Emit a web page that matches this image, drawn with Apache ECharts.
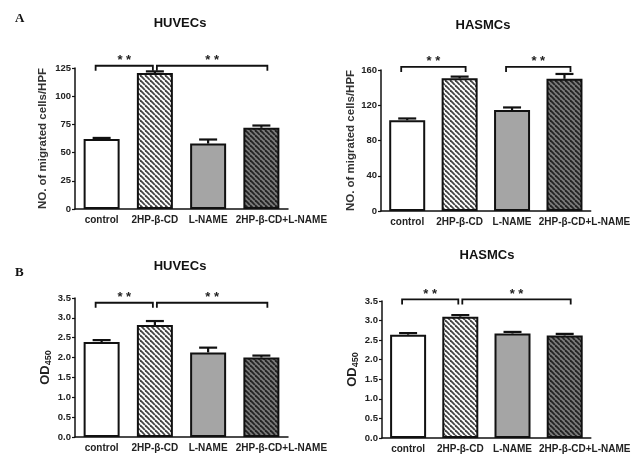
<!DOCTYPE html>
<html><head><meta charset="utf-8">
<script src="https://cdn.jsdelivr.net/npm/echarts@6/dist/echarts.min.js"></script>
<style>html,body{margin:0;padding:0;background:#fff}#c{width:633px;height:454px}</style>
</head><body><div id="c"></div>
<script>
// ---- data ----
const categories = ['control', '2HP-β-CD', 'L-NAME', '2HP-β-CD+L-NAME'];
const migHUVEC = [62, 120.5, 58, 72];
const migHUVECErr = [1, 1.5, 3.6, 2];
const migHASMC = [103, 150.5, 114.5, 150];
const migHASMCErr = [2, 2, 3, 5.5];
const odHUVEC = [2.39, 2.82, 2.13, 2.0];
const odHUVECErr = [0.05, 0.1, 0.12, 0.05];
const odHASMC = [2.64, 3.10, 2.67, 2.62];
const odHASMCErr = [0.04, 0.04, 0.04, 0.04];
// significance brackets: [fromIndex, toIndex, yValue]
const brkMigHUVEC = [[0, 1, 127], [1, 3, 127]];
const brkMigHASMC = [[0, 1, 163.5], [2, 3, 163.5]];
const brkOdHUVEC = [[0, 1, 3.38], [1, 3, 3.38]];
const brkOdHASMC = [[0, 1, 3.54], [1, 3, 3.54]];
const yTicksMig1 = {min: 0, max: 125, interval: 25};
const yTicksMig2 = {min: 0, max: 160, interval: 40};
const yTicksOD = {min: 0, max: 3.5, interval: 0.5};

// ---- styles ----
function stripes(bg, fg) {
  const s = 5, c = document.createElement('canvas');
  c.width = s; c.height = s;
  const g = c.getContext('2d');
  g.fillStyle = bg; g.fillRect(0, 0, s, s);
  g.strokeStyle = fg; g.lineWidth = 1.8;
  for (const o of [-s, 0, s]) {
    g.beginPath(); g.moveTo(o, 0); g.lineTo(o + s, s); g.stroke();
  }
  return {image: c, repeat: 'repeat'};
}
const fills = ['#ffffff', stripes('#ffffff', '#444444'), '#a5a5a5', stripes('#7a7a7a', '#222222')];
const FONT = 'Liberation Sans, Arial, sans-serif';

const chart = echarts.init(document.getElementById('c'), null, {renderer: 'canvas'});

const grids = [
  {left: 75, top: 68, width: 213, height: 141},
  {left: 381, top: 70, width: 211, height: 141},
  {left: 75, top: 298, width: 213, height: 139},
  {left: 382, top: 301, width: 212, height: 140}
];
const panels = [
  {vals: migHUVEC, err: migHUVECErr, brk: brkMigHUVEC, ticks: yTicksMig1, name: 'NO. of migrated cells/HPF', gap: 26, od: false},
  {vals: migHASMC, err: migHASMCErr, brk: brkMigHASMC, ticks: yTicksMig2, name: 'NO. of migrated cells/HPF', gap: 23, od: false},
  {vals: odHUVEC, err: odHUVECErr, brk: brkOdHUVEC, ticks: yTicksOD, name: '{a|OD}{b|450}', gap: 22, od: true},
  {vals: odHASMC, err: odHASMCErr, brk: brkOdHASMC, ticks: yTicksOD, name: '{a|OD}{b|450}', gap: 22, od: true}
];

const xAxes = [], yAxes = [], series = [];
panels.forEach((p, i) => {
  xAxes.push({
    type: 'category', gridIndex: i,
    data: categories.map((c, k) => k === 3 ? {value: c, textStyle: {padding: [0, 0, 0, 40]}} : c),
    axisLine: {lineStyle: {color: '#111', width: 1.5}},
    axisTick: {show: false},
    axisLabel: {interval: 0, margin: 6, fontFamily: FONT, fontSize: 10, fontWeight: 'bold', color: '#222'}
  });
  yAxes.push({
    type: 'value', gridIndex: i,
    min: p.ticks.min, max: p.ticks.max, interval: p.ticks.interval,
    splitLine: {show: false},
    axisLine: {show: true, lineStyle: {color: '#111', width: 1.5}},
    axisTick: {show: true, length: 3, lineStyle: {color: '#111', width: 1.2}},
    axisLabel: {margin: 4, fontFamily: FONT, fontSize: 9.5, fontWeight: 'bold', color: '#222',
      formatter: p.od ? (v => v.toFixed(1)) : (v => String(v))},
    name: p.name, nameLocation: 'middle', nameGap: p.gap,
    nameTextStyle: {fontFamily: FONT, fontSize: 11.5, fontWeight: 'bold', color: '#333',
      rich: {a: {fontFamily: FONT, fontSize: 13, fontWeight: 'bold', color: '#222'},
             b: {fontFamily: FONT, fontSize: 9, fontWeight: 'bold', color: '#222', padding: [7, 0, 0, 0]}}}
  });
  series.push({
    type: 'bar', xAxisIndex: i, yAxisIndex: i, barWidth: 36, z: 2,
    data: p.vals.map((v, k) => ({value: v, itemStyle: {color: fills[k], borderColor: '#111', borderWidth: 2}}))
  });
  series.push({
    type: 'custom', xAxisIndex: i, yAxisIndex: i, z: 3, clip: false,
    data: p.vals.map((v, k) => [k, v, p.err[k]]),
    renderItem: (params, api) => {
      const k = api.value(0), v = api.value(1), e = api.value(2);
      const a = api.coord([k, v]), b = api.coord([k, v + e]);
      const st = {stroke: '#111', lineWidth: 2.2};
      return {type: 'group', children: [
        {type: 'line', shape: {x1: a[0], y1: a[1], x2: b[0], y2: b[1]}, style: st},
        {type: 'line', shape: {x1: b[0] - 9, y1: b[1], x2: b[0] + 9, y2: b[1]}, style: st}
      ]};
    }
  });
  series.push({
    type: 'custom', xAxisIndex: i, yAxisIndex: i, z: 4, clip: false,
    data: p.brk.map(b => [b[0], b[1], b[2]]),
    renderItem: (params, api) => {
      const f = api.value(0), t = api.value(1), y = api.value(2);
      const shared = (idx) => p.brk.some((o, j) => j !== params.dataIndex && (o[0] === idx || o[1] === idx));
      const pf = api.coord([f, y]), pt = api.coord([t, y]);
      const x1 = pf[0] + (shared(f) ? 2 : -6);
      const x2 = pt[0] + (shared(t) ? -2 : 6);
      const yy = pf[1];
      const st = {stroke: '#111', lineWidth: 1.8, fill: null};
      return {type: 'group', children: [
        {type: 'polyline', shape: {points: [[x1, yy + 5], [x1, yy], [x2, yy], [x2, yy + 5]]}, style: st},
        {type: 'text', x: (x1 + x2) / 2, y: yy - 5,
          style: {text: '* *', textAlign: 'center', textVerticalAlign: 'middle', font: 'bold 13px ' + FONT, fill: '#222'}}
      ]};
    }
  });
});

const titleFont = 'bold 13px ' + FONT;
chart.setOption({
  animation: false,
  grid: grids,
  xAxis: xAxes,
  yAxis: yAxes,
  series: series,
  graphic: [
    {type: 'text', left: 15, top: 12, style: {text: 'A', font: 'bold 13px "Liberation Serif", "Times New Roman", serif', fill: '#111'}},
    {type: 'text', left: 15, top: 266, style: {text: 'B', font: 'bold 13px "Liberation Serif", "Times New Roman", serif', fill: '#111'}},
    {type: 'text', x: 180, y: 23, style: {text: 'HUVECs', font: titleFont, fill: '#111', textAlign: 'center', textVerticalAlign: 'middle'}},
    {type: 'text', x: 483, y: 25, style: {text: 'HASMCs', font: titleFont, fill: '#111', textAlign: 'center', textVerticalAlign: 'middle'}},
    {type: 'text', x: 180, y: 266, style: {text: 'HUVECs', font: titleFont, fill: '#111', textAlign: 'center', textVerticalAlign: 'middle'}},
    {type: 'text', x: 487, y: 255, style: {text: 'HASMCs', font: titleFont, fill: '#111', textAlign: 'center', textVerticalAlign: 'middle'}}
  ]
});
</script></body></html>
